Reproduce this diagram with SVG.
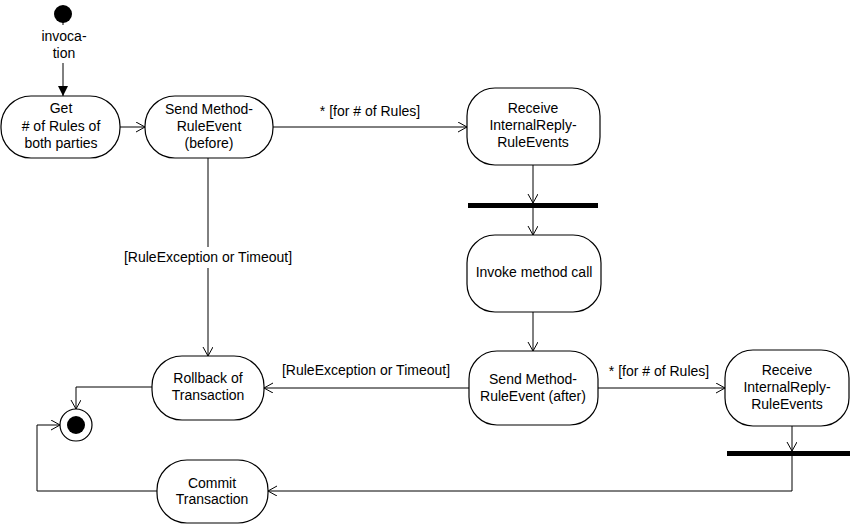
<svg xmlns="http://www.w3.org/2000/svg" width="850" height="524" viewBox="0 0 850 524">
<style>
.n{fill:#fff;stroke:#000;stroke-width:1.2}
.t{font-family:"Liberation Sans",Arial,sans-serif;font-size:14px;fill:#000;text-anchor:middle}
.c{fill:none;stroke:#000;stroke-width:1}
.bar{fill:#000}
</style>
<defs>
<marker id="open" markerWidth="12" markerHeight="12" refX="10" refY="5" orient="auto" markerUnits="userSpaceOnUse">
<path d="M1,0 L10,5 L1,10" fill="none" stroke="#000" stroke-width="1"/>
</marker>
<marker id="filled" markerWidth="12" markerHeight="12" refX="10" refY="5" orient="auto" markerUnits="userSpaceOnUse">
<path d="M0,0 L10,5 L0,10 Z" fill="#000"/>
</marker>
</defs>
<rect width="850" height="524" fill="#fff"/>
<g id="connectors">
<path class="c" d="M63,21 V25 M63,63 V96" marker-end="url(#filled)"/>
<path class="c" d="M120,127 H145" marker-end="url(#open)"/>
<path class="c" d="M273,127 H467" marker-end="url(#open)"/>
<path class="c" d="M533,165 V203" marker-end="url(#open)"/>
<path class="c" d="M533,208 V235" marker-end="url(#open)"/>
<path class="c" d="M533,312 V351" marker-end="url(#open)"/>
<path class="c" d="M208,158 V247 M208,268 V356" marker-end="url(#open)"/>
<path class="c" d="M469,388 H264" marker-end="url(#open)"/>
<path class="c" d="M598,388 H725" marker-end="url(#open)"/>
<path class="c" d="M792,426 V451" marker-end="url(#open)"/>
<path class="c" d="M792,456 V491 H268" marker-end="url(#open)"/>
<path class="c" d="M157,491 H37 V425 H60" marker-end="url(#open)"/>
<path class="c" d="M152,387 H76 V409" marker-end="url(#open)"/>
<text class="t" x="370" y="116">* [for # of Rules]</text>
<text class="t" x="659" y="376">* [for # of Rules]</text>
<text class="t" x="208" y="262">[RuleException or Timeout]</text>
<text class="t" x="366" y="375">[RuleException or Timeout]</text>
</g>
<g id="start">
<circle cx="63" cy="14" r="9" fill="#000"/>
<text class="t" x="64" y="41">invoca-</text>
<text class="t" x="64" y="58">tion</text>
</g>
<g id="get">
<rect class="n" x="1" y="96" width="119" height="62" rx="30" ry="30"/>
<text class="t" x="61" y="113">Get</text>
<text class="t" x="61" y="131"># of Rules of</text>
<text class="t" x="61" y="148">both parties</text>
</g>
<g id="sendBefore">
<rect class="n" x="145" y="96" width="128" height="62" rx="30" ry="30"/>
<text class="t" x="209" y="114">Send Method-</text>
<text class="t" x="209" y="131">RuleEvent</text>
<text class="t" x="209" y="148">(before)</text>
</g>
<g id="receive1">
<rect class="n" x="467" y="88" width="133" height="77" rx="28" ry="28"/>
<text class="t" x="533" y="113">Receive</text>
<text class="t" x="533" y="130">InternalReply-</text>
<text class="t" x="533" y="147">RuleEvents</text>
</g>
<g id="bar1"><rect class="bar" x="468" y="203" width="130" height="5"/></g>
<g id="invoke">
<rect class="n" x="467" y="235" width="134" height="77" rx="28" ry="28"/>
<text class="t" x="534" y="277">Invoke method call</text>
</g>
<g id="sendAfter">
<rect class="n" x="469" y="351" width="129" height="74" rx="28" ry="28"/>
<text class="t" x="533" y="384">Send Method-</text>
<text class="t" x="533" y="401">RuleEvent (after)</text>
</g>
<g id="receive2">
<rect class="n" x="725" y="350" width="124" height="76" rx="28" ry="28"/>
<text class="t" x="787" y="375">Receive</text>
<text class="t" x="787" y="392">InternalReply-</text>
<text class="t" x="787" y="409">RuleEvents</text>
</g>
<g id="bar2"><rect class="bar" x="727" y="451" width="123" height="5"/></g>
<g id="rollback">
<rect class="n" x="152" y="356" width="112" height="64" rx="30" ry="30"/>
<text class="t" x="208" y="383">Rollback of</text>
<text class="t" x="208" y="400">Transaction</text>
</g>
<g id="commit">
<rect class="n" x="157" y="460" width="111" height="63" rx="30" ry="30"/>
<text class="t" x="212" y="488">Commit</text>
<text class="t" x="212" y="504">Transaction</text>
</g>
<g id="end">
<circle cx="76" cy="425" r="16" fill="#fff" stroke="#000" stroke-width="1.2"/>
<circle cx="76" cy="425" r="9" fill="#000"/>
</g>
</svg>
